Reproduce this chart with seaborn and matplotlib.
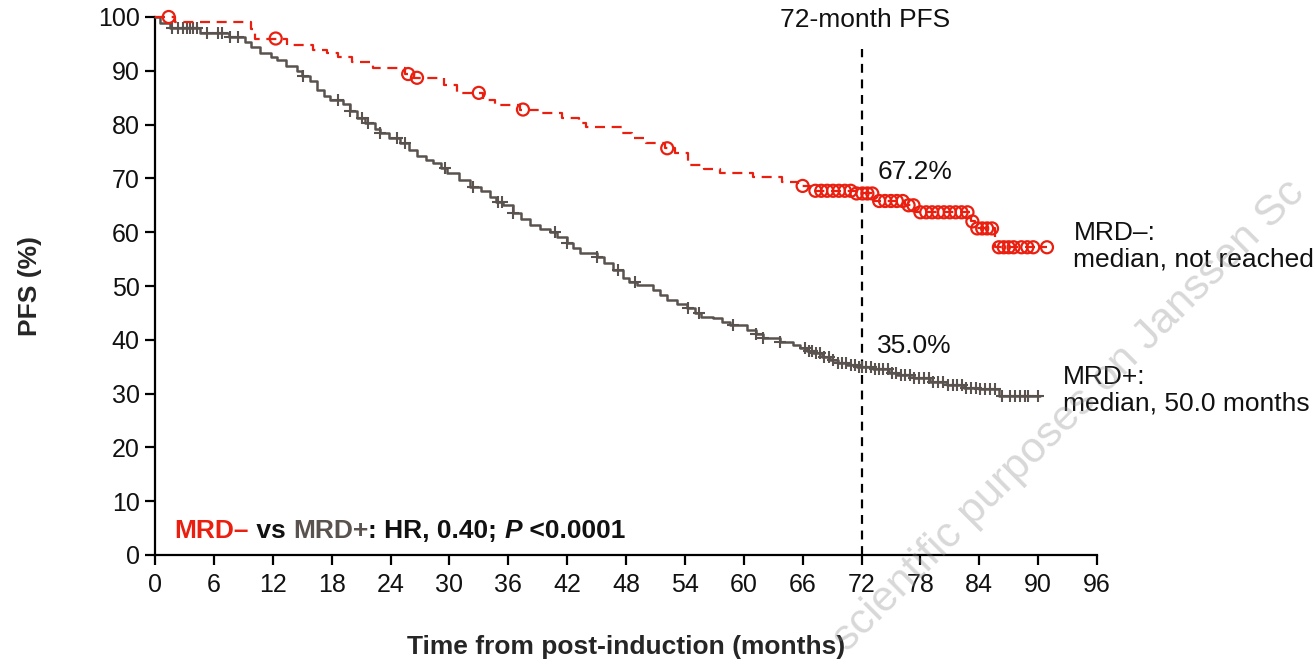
import numpy as np
import matplotlib
matplotlib.use("Agg")
import matplotlib.pyplot as plt
import seaborn as sns

# ---------------- data ----------------
# MRD-negative: step times (months) and PFS (%) from that time on
neg_times = [0.0, 2.0, 9.8, 10.2, 13.5, 16.1, 17.5, 18.6, 20.1, 22.2, 25.5, 26.4,
             29.5, 30.8, 33.4, 34.6, 37.2, 39.3, 41.5, 43.2, 43.9, 47.6, 48.6,
             50.0, 52.0, 53.0, 54.3, 55.9, 57.6, 60.9, 63.9, 65.5, 66.8, 71.5,
             73.3, 76.4, 77.5, 83.2, 83.6, 85.6, 90.9]
neg_surv = [100.0, 99.1, 97.8, 96.0, 94.8, 93.9, 93.3, 92.6, 91.6, 90.5, 89.4, 88.7,
            87.4, 85.9, 84.6, 83.6, 82.8, 82.2, 81.2, 80.3, 79.6, 78.4, 77.5,
            76.6, 75.6, 74.7, 72.5, 71.7, 71.0, 70.3, 69.3, 68.6, 67.7, 67.2,
            65.8, 65.0, 63.7, 62.0, 60.7, 57.2, 57.2]
neg_censor = [1.4, 12.3, 25.8, 26.7, 33.0, 37.5, 52.2, 66.0,
              67.3, 67.9, 68.5, 69.1, 69.7, 70.3, 70.9, 71.5,
              72.1, 72.6, 73.1,
              73.8, 74.4, 75.0, 75.6, 76.2, 76.8, 77.3,
              78.0, 78.6, 79.2, 79.8, 80.4, 81.0, 81.6, 82.2, 82.8,
              83.3, 83.8, 84.3, 84.8, 85.3,
              86.0, 86.5, 87.0, 87.5, 88.3, 88.9, 89.5,
              90.9]

# MRD-positive
pos_times = [0.0, 0.5, 1.5, 4.6, 7.5, 9.2, 9.8, 10.7, 11.8, 12.4, 13.3, 14.5, 15.0,
             15.8, 16.5, 17.2, 17.8, 19.2, 19.9, 20.6, 21.4, 22.4, 22.9, 23.8,
             25.0, 25.9, 26.7, 27.6, 28.3, 29.1, 29.8, 31.0, 32.1, 33.2, 34.1,
             34.8, 35.5, 36.5, 37.3, 38.2, 39.2, 40.3, 41.0, 42.0, 42.6, 43.3,
             45.0, 45.8, 46.7, 47.7, 48.3, 49.1, 50.8, 51.5, 52.2, 53.2, 54.2,
             55.0, 55.6, 56.9, 57.8, 58.6, 60.3, 61.2, 62.0, 63.7, 65.0, 65.7,
             66.4, 67.1, 68.0, 68.8, 69.6, 70.5, 71.5, 73.2, 74.8, 75.6, 77.3,
             79.0, 80.7, 82.4, 84.0, 86.0, 90.2]
pos_surv = [100.0, 98.8, 98.0, 97.0, 96.2, 95.4, 94.4, 93.3, 92.6, 92.0, 90.9, 90.0, 89.0,
            88.1, 86.4, 85.3, 84.6, 83.8, 82.5, 81.2, 80.3, 79.2, 78.4, 77.5,
            76.6, 75.3, 74.2, 73.5, 72.9, 71.9, 71.0, 69.7, 68.4, 67.6, 66.6,
            65.6, 65.0, 63.6, 62.4, 61.3, 60.6, 60.0, 59.2, 58.0, 57.0, 56.1,
            55.4, 54.2, 53.0, 51.5, 50.8, 50.2, 49.3, 48.3, 47.4, 46.6, 45.9,
            45.0, 44.2, 44.0, 43.4, 42.8, 41.8, 41.0, 40.3, 39.6, 39.0, 38.5,
            38.0, 37.5, 36.8, 36.2, 35.7, 35.3, 35.0, 34.6, 33.9, 33.5, 32.9,
            32.2, 31.6, 31.0, 30.8, 29.5, 29.5]
pos_censor = [1.7, 2.3, 2.9, 3.3, 3.6, 3.9, 4.3, 5.3, 6.4, 6.8, 7.6, 8.5,
              15.1, 18.7, 19.9, 21.1, 21.7, 22.9, 24.7, 25.5, 29.6, 32.4, 35.0,
              35.4, 36.5, 40.8, 42.0, 45.0, 47.2, 48.9, 54.3, 55.4, 58.9, 61.2,
              62.0, 63.7,
              66.2, 66.6, 67.0, 67.4, 67.8, 68.2, 68.7, 69.1, 69.6, 70.0, 70.4,
              70.9, 71.3, 71.7, 72.1, 72.5, 73.0, 73.4, 73.8, 74.2, 74.7, 75.1,
              75.5, 76.0, 76.4, 76.9, 77.4, 77.9, 78.4, 78.9, 79.3, 79.8, 80.3,
              80.8, 81.3, 81.7, 82.2, 82.7, 83.2, 83.7, 84.1, 84.6, 85.1, 85.6,
              86.3, 87.1, 87.6, 88.2, 88.7, 89.0, 90.0]

x_ticks = list(range(0, 97, 6))
y_ticks = list(range(0, 101, 10))
landmark = 72
landmark_neg = "67.2%"
landmark_pos = "35.0%"

RED = "#EA1F10"
GREY = "#5A524F"


def surv_at(times, surv, t):
    times = np.asarray(times)
    surv = np.asarray(surv)
    idx = np.searchsorted(times, t, side="right") - 1
    return surv[idx]


# ---------------- figure ----------------
sns.set_style("ticks")
plt.rcParams["font.family"] = ["Liberation Sans", "DejaVu Sans"]
FS = 19
TFS = 18

fig = plt.figure(figsize=(13.14, 6.61), dpi=100)
W, H = 1314, 661
ax = fig.add_axes([155 / W, 1 - 555 / H, (1097 - 155) / W, (555 - 17) / H])

# curves
sns.lineplot(x=pos_times, y=pos_surv, drawstyle="steps-post", color=GREY,
             lw=1.8, estimator=None, sort=False, ax=ax, clip_on=False, zorder=3)
sns.lineplot(x=neg_times, y=neg_surv, drawstyle="steps-post", color=RED,
             lw=1.6, estimator=None, sort=False, ax=ax, clip_on=False,
             linestyle=(0, (4.5, 3)), zorder=4)

# censor marks
sns.scatterplot(x=pos_censor, y=surv_at(pos_times, pos_surv, pos_censor),
                marker="+", s=85, color=GREY, linewidth=1.5, ax=ax,
                clip_on=False, zorder=3)
sns.scatterplot(x=neg_censor, y=surv_at(neg_times, neg_surv, neg_censor),
                marker="o", s=75, facecolor="none", edgecolor=RED,
                linewidth=1.6, ax=ax, clip_on=False, zorder=5)

# landmark line
ax.plot([landmark, landmark], [0, 94], color="black", lw=1.6,
        linestyle=(0, (4, 3)), zorder=2, clip_on=False)
ax.text(landmark + 0.4, 99.4, "72-month PFS", ha="center", va="center",
        fontsize=FS, color="#111111")
ax.text(landmark + 1.6, 71.2, landmark_neg, ha="left", va="center",
        fontsize=FS, color="#111111")
ax.text(landmark + 1.6, 38.8, landmark_pos, ha="left", va="center",
        fontsize=FS, color="#111111")

# right-side labels
ax.text(93.6, 57.4, "MRD–:\nmedian, not reached", ha="left", va="center",
        fontsize=FS, color="#111111", linespacing=1.1, clip_on=False)
ax.text(92.5, 30.6, "MRD+:\nmedian, 50.0 months", ha="left", va="center",
        fontsize=FS, color="#111111", linespacing=1.1, clip_on=False)

# HR annotation (multi-colour)
t1 = ax.text(2.0, 4.5, "MRD–", color=RED, fontsize=FS, weight="bold",
             ha="left", va="center")
parts = [(" vs ", "#111111", "normal"), ("MRD+", GREY, "normal"),
         (": HR, 0.40; ", "#111111", "normal"), ("P", "#111111", "italic"),
         (" <0.0001", "#111111", "normal")]
prev = t1
for txt, col, sty in parts:
    prev = ax.annotate(txt, xy=(1, 0), xycoords=prev, ha="left", va="bottom",
                       color=col, fontsize=FS, weight="bold", style=sty)

# axes styling
ax.set_xlim(0, 96)
ax.set_ylim(0, 100)
ax.set_xticks(x_ticks)
ax.set_yticks(y_ticks)
ax.tick_params(axis="both", length=7, width=1.6, labelsize=TFS, color="black",
               labelcolor="#111111")
ax.tick_params(axis="x", pad=6)
ax.tick_params(axis="y", pad=4)
for sp in ["top", "right"]:
    ax.spines[sp].set_visible(False)
for sp in ["left", "bottom"]:
    ax.spines[sp].set_linewidth(1.6)
    ax.spines[sp].set_color("black")
ax.set_xlabel("Time from post-induction (months)", fontsize=FS, weight="bold",
              labelpad=27)
ax.set_ylabel("PFS (%)", fontsize=FS, weight="bold", labelpad=40)

# watermark
fig.text(848 / W, 8 / H, "scientific purposes on Janssen Sc", rotation=45,
         rotation_mode="anchor", ha="left", va="baseline", fontsize=31,
         color="#888888", alpha=0.33)

fig.savefig("out.png", dpi=100)
